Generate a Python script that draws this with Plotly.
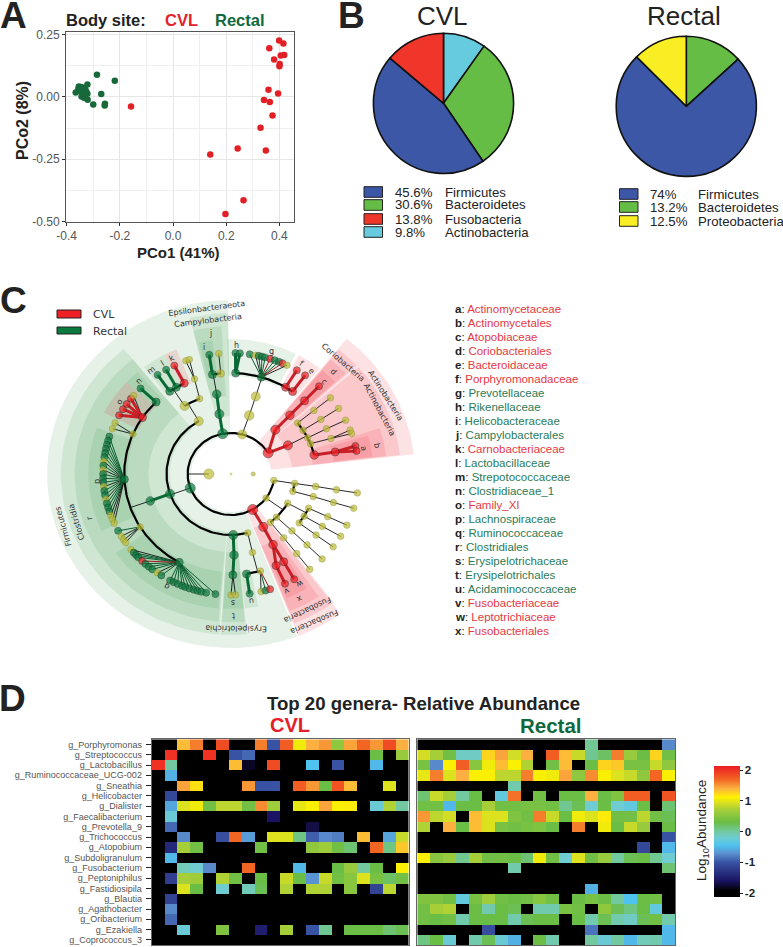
import numpy as np
import plotly.graph_objects as go

W, H = 783, 947
FONT = "Liberation Sans"
TREE = "DejaVu Sans"
OLIVE = "#BDBD35"

# ---------- Panel A data ----------
cvl_pco1 = [.399,.415,.362,.418,.405,.38,.401,.40,.359,.395,.342,.364,.374,.329,.243,.349,.14,.265,.197,-.158]
cvl_pco2 = [.226,.214,.195,.168,.166,.15,.132,.123,.028,.013,-.013,-.021,-.075,-.124,-.207,-.215,-.231,-.415,-.47,-.039]
rectal_pco1 = [-.286,-.219,-.322,-.366,-.356,-.346,-.337,-.35,-.337,-.327,-.322,-.344,-.335,-.321,-.354,-.331,-.27,-.30,-.256,-.257]
rectal_pco2 = [.089,.064,.049,.017,.032,.039,.036,.023,.015,.023,.012,.001,-.004,-.012,.041,.032,.011,-.031,-.028,-.035]

# ---------- Panel B data ----------
cvl_phyla = ["Actinobacteria", "Bacteroidetes", "Firmicutes", "Fusobacteria"]
cvl_share = [9.8, 30.6, 45.6, 13.8]
rectal_phyla = ["Bacteroidetes", "Firmicutes", "Proteobacteria"]
rectal_share = [13.2, 74, 12.5]
phylum_colors = {"Firmicutes": "#3B57A6", "Bacteroidetes": "#66BD46", "Fusobacteria": "#F0352B",
                 "Actinobacteria": "#67CBDF", "Proteobacteria": "#F9ED24"}
cvl_legend = [("45.6%", "Firmicutes"), ("30.6%", "Bacteroidetes"), ("13.8%", "Fusobacteria"), ("9.8%", "Actinobacteria")]
rectal_legend = [("74%", "Firmicutes"), ("13.2%", "Bacteroidetes"), ("12.5%", "Proteobacteria")]

# ---------- Panel C data: cladogram nodes (id, parent, angle deg, level, status, link) ----------
# status: R=CVL, G=Rectal, N=not significant, T=tiny. link: s=stem, a=arc, f=thin fan, x=none
root_nodes = [("root", None, 0, 0, "T0", "x"), ("bac", "root", 180, 1, "N", "x"), ("arch", "root", 0, 1, "T", "x")]
actino_nodes = [
    ("act", "bac", 31, 2, "R", "a"), ("cor", "act", 46.5, 3, "R", "s"), ("actc", "act", 28, 3, "R", "s"),
    ("corb", "cor", 46.5, 4, "R", "s"), ("atop", "corb", 46.5, 5, "R", "s"), ("atog", "atop", 46.5, 6, "R", "s"),
    ("y1", "actc", 39, 4, "N", "a"), ("y2", "actc", 32.7, 4, "N", "a"), ("y3", "actc", 26.5, 4, "N", "a"),
    ("y4", "actc", 22, 4, "N", "a"), ("acto", "actc", 13.6, 4, "R", "a"),
    ("y1f", "y1", 39, 5, "N", "s"), ("y1g", "y1f", 39, 6, "N", "s"),
    ("y2f", "y2", 32.7, 5, "N", "s"), ("y2g", "y2f", 32.8, 6, "N", "s"),
    ("y3f", "y3", 26.6, 5, "N", "s"), ("y3g", "y3f", 26.4, 6, "N", "s"),
    ("y4f", "y4", 20.6, 5, "N", "s"), ("y4g", "y4f", 21.3, 6, "N", "s"), ("y4h", "y4f", 19.5, 6, "N", "s"),
    ("actf", "acto", 12.6, 5, "R", "s"), ("acg1", "actf", 13.4, 6, "R", "s"), ("acg2", "actf", 11, 6, "R", "s"),
]
bacteroidetes_nodes = [
    ("bct", "bac", 75, 2, "N", "a"), ("bcl", "bct", 73.6, 3, "N", "s"), ("bco", "bcl", 73.2, 4, "N", "s"),
    ("rik", "bco", 87.5, 5, "G", "a"), ("prv", "bco", 73.5, 5, "G", "a"),
    ("por", "bco", 59.2, 5, "R", "a"), ("bcd", "bco", 54.8, 5, "R", "a"),
    ("rik1", "rik", 88, 6, "G", "s"), ("rik2", "rik", 86, 6, "G", "s"),
    ("por1", "por", 59, 6, "R", "s"), ("bcd1", "bcd", 54.6, 6, "R", "s"),
]
prevotella_angles = [81.6, 79, 77.5, 76, 74.5, 72.2, 70, 68, 66.3, 64]
prevotella_status = ["G", "N", "G", "G", "G", "R", "G", "G", "R", "N"]
epsilon_nodes = [
    ("eps", "bac", 101, 2, "G", "a"), ("cam", "eps", 100.4, 3, "G", "s"), ("cmb", "cam", 99.6, 4, "G", "s"),
    ("hel", "cmb", 100, 5, "G", "a"), ("ey", "cmb", 95.5, 5, "N", "a"),
    ("hel1", "hel", 99.8, 6, "G", "s"), ("ey1", "ey", 95.5, 6, "N", "s"),
]
firmicutes_nodes = [
    ("fir", "bac", 200, 2, "G", "a"), ("bci", "fir", 120, 3, "N", "a"), ("clo", "fir", 199, 3, "G", "a"),
    ("ery", "fir", 272, 3, "G", "a"), ("neg", "fir", 285, 3, "N", "a"),
    ("lab", "bci", 122.8, 4, "N", "a"), ("bn2", "bci", 111.5, 4, "N", "a"),
    ("car", "lab", 116, 5, "R", "a"), ("lac", "lab", 120.8, 5, "G", "a"), ("str", "lab", 125, 5, "G", "a"),
    ("car1", "car", 116.3, 6, "R", "s"), ("lac1", "lac", 120.5, 6, "G", "s"), ("str1", "str", 125, 6, "G", "s"),
    ("bn3", "bn2", 110, 5, "N", "s"), ("bn4", "bn3", 110.7, 6, "N", "f"), ("bn5", "bn3", 109, 6, "N", "f"),
    ("clr", "clo", 199.4, 4, "G", "s"),
    ("cln", "clr", 134.6, 5, "G", "a"), ("fxi", "clr", 146, 5, "R", "a"), ("cy1", "clr", 156.7, 5, "N", "a"),
    ("lch", "clr", 183, 5, "G", "a"), ("cy2", "clr", 211.6, 5, "N", "a"), ("rum", "clr", 241, 5, "G", "a"),
    ("cln1", "cln", 135, 6, "G", "s"),
    ("cy11", "cy1", 158, 6, "N", "f"), ("cy12", "cy1", 155, 6, "N", "f"),
    ("cy21", "cy2", 208, 6, "G", "f"), ("cy22", "cy2", 211, 6, "N", "f"), ("cy23", "cy2", 213, 6, "N", "f"), ("cy24", "cy2", 214.5, 6, "N", "f"),
    ("ero", "ery", 272, 4, "G", "s"), ("erf", "ero", 271, 5, "G", "s"), ("erg1", "erf", 270, 6, "N", "f"), ("erg2", "erf", 272, 6, "N", "f"),
    ("nego", "neg", 284.5, 4, "N", "s"), ("aci", "nego", 278.4, 5, "G", "a"), ("nef", "nego", 286, 5, "N", "a"),
    ("aci1", "aci", 278.4, 6, "G", "s"), ("nf1", "nef", 283.6, 6, "N", "f"), ("nf2", "nef", 285.7, 6, "G", "f"), ("nf3", "nef", 287.8, 6, "R", "f"),
]
family_xi_angles = [151, 147.6, 144.7, 141.5, 139.6]
family_xi_status = ["R", "R", "R", "R", "N"]
lachno_angles = [162, 164, 166, 168, 170, 172, 174, 176, 178, 180, 182, 184, 186, 188, 190, 192, 194, 196, 198, 200, 202, 204]
lachno_status = ["G", "G", "G", "G", "G", "G", "N", "G", "N", "G", "G", "G", "N", "G", "G", "N", "G", "G", "G", "N", "N", "N"]
rumino_angles = [218.6, 220.5, 222, 223.5, 226, 228, 230, 232, 234.8, 237, 241.6, 243.4, 245.4, 247.5, 249, 251, 253, 254.8, 256.5, 258.8, 263]
rumino_status = ["N", "G", "G", "G", "R", "G", "G", "G", "N", "G", "G", "G", "G", "G", "G", "G", "G", "G", "G", "G", "G"]
fuso_nodes = [
    ("fus", "bac", 300, 2, "R", "a"), ("fuc", "fus", 300, 3, "R", "s"), ("fuo", "fuc", 299.4, 4, "R", "s"),
    ("lep", "fuo", 299.6, 5, "R", "s"), ("fuf", "fuo", 295, 5, "R", "s"),
    ("lep1", "lep", 299.6, 6, "R", "s"), ("fuf1", "fuf", 295, 6, "R", "s"),
]
unlabelled_nodes = [
    ("p1", "bac", 351, 2, "N", "a"), ("p2", "bac", 324, 2, "N", "a"),
    ("a1", "p1", 351.1, 3, "N", "a"), ("a2", "p1", 343.5, 3, "N", "a"),
    ("a1o", "a1", 351.2, 4, "N", "s"), ("a1f", "a1o", 351, 5, "N", "s"), ("a1g", "a1f", 351, 6, "N", "s"),
    ("a2o", "a2", 343.8, 4, "N", "s"), ("a2f", "a2o", 343.6, 5, "N", "s"), ("a2g", "a2f", 343.6, 6, "N", "s"),
    ("b1", "p2", 331.4, 3, "N", "a"), ("b2", "p2", 315, 3, "N", "a"), ("b3", "p2", 307.7, 3, "N", "a"),
    ("c1", "b1", 335, 4, "N", "a"), ("c2", "b1", 328.6, 4, "N", "a"), ("c3", "b1", 322.8, 4, "N", "a"),
    ("c1f", "c1", 335, 5, "N", "s"), ("c1g", "c1f", 335, 6, "N", "s"),
    ("c2f", "c2", 328.8, 5, "N", "s"), ("c2g", "c2f", 329, 6, "N", "s"),
    ("c3f", "c3", 322.8, 5, "N", "s"), ("c3g", "c3f", 323, 6, "N", "s"),
    ("b2o", "b2", 315.4, 4, "N", "s"), ("b2f", "b2o", 315.4, 5, "N", "s"), ("b2g", "b2f", 315.4, 6, "N", "s"),
    ("b3o", "b3", 308, 4, "N", "s"), ("b3f", "b3o", 308, 5, "N", "s"), ("b3g", "b3f", 308, 6, "N", "s"),
]
# shaded clades: start angle, end angle, level, status
wedge_start = [6.5, 291.5, 107, 91,   42.4, 6.8, 291.8, 129, 266.5, 91,
               42.8, 7, 292, 129, 266.7, 93.5,
               43.2, 7.5, 293, 297.5, 131, 137, 160, 216, 266.9, 275.5, 97.5, 112.5, 118, 122.5, 84, 63, 56.5, 51.5]
wedge_end = [51, 306.5, 291, 107,   50.7, 41.5, 307, 266, 275.3, 104,
             50.5, 18, 304, 265.5, 275.1, 104,
             50.2, 16.5, 297.5, 302, 137, 153, 205, 265, 275, 281, 103, 118, 122.5, 127.5, 91.5, 84, 61.6, 56.5]
wedge_level = [2, 2, 2, 2,   3, 3, 3, 3, 3, 3,
               4, 4, 4, 4, 4, 4,
               5, 5, 5, 5, 5, 5, 5, 5, 5, 5, 5, 5, 5, 5, 5, 5, 5, 5]
wedge_status = ["R", "R", "G", "G",   "R", "R", "R", "G", "G", "G",
                "R", "R", "R", "G", "G", "G",
                "R", "R", "R", "R", "G", "R", "G", "G", "G", "G", "G", "R", "G", "G", "G", "G", "R", "R"]
clade_key_letters = list("abcdefghijklmnopqrstuvwx")
clade_key_names = ["Actinomycetaceae", "Actinomycetales", "Atopobiaceae", "Coriobacteriales", "Bacteroidaceae",
                   "Porphyromonadaceae", "Prevotellaceae", "Rikenellaceae", "Helicobacteraceae", "Campylobacterales",
                   "Carnobacteriaceae", "Lactobacillaceae", "Strepotococcaceae", "Clostridiaceae_1", "Family_XI",
                   "Lachnospiraceae", "Ruminococcaceae", "Clostridiales", "Erysipelotrichaceae", "Erysipelotrichales",
                   "Acidaminococcaceae", "Fusobacteriaceae", "Leptotrichiaceae", "Fusobacteriales"]
clade_key_groups = list("RRRRRRGGGGRGGGRGGGGGGRRR")

# ---------- Panel D data ----------
genera = ["g_Porphyromonas", "g_Streptococcus", "g_Lactobacillus", "g_Ruminococcaceae_UCG-002", "g_Sneathia",
          "g_Helicobacter", "g_Dialister", "g_Faecalibacterium", "g_Prevotella_9", "g_Trichococcus", "g_Atopobium",
          "g_Subdoligranulum", "g_Fusobacterium", "g_Peptoniphilus", "g_Fastidiosipila", "g_Blautia",
          "g_Agathobacter", "g_Oribacterium", "g_Ezakiella", "g_Coprococcus_3"]
K = -2.13
cvl_abundance = [
    [K,K,1.35,1.6,K,1.85,K,K,1.6,-1,1.75,1.05,1.4,1.5,.55,1.45,1.7,1.5,1.85,1.4],
    [K,2,K,K,2,K,-1,-.9,K,K,K,K,K,K,K,K,K,.3,K,.6],
    [2,0,K,K,K,K,1.35,-1.8,K,1.85,K,K,-.45,K,-1,K,K,-.5,K,K],
    [K,-.55,K,K,K,K,K,K,K,K,K,K,K,K,K,K,K,K,K,K],
    [K,K,1.45,1.2,K,K,K,1.5,-1,-1,K,1.75,1.5,.3,1.8,1.35,K,K,.95,K],
    [K,-1.1,K,K,K,K,K,K,K,K,K,K,K,K,K,K,K,K,K,K],
    [K,-.6,.95,1.05,.35,.8,.8,.35,1.55,.65,K,1.0,1.1,1.45,1.1,1.15,K,-.25,.75,0],
    [K,-.25,K,K,K,K,K,K,K,-1.6,K,K,K,K,K,K,K,K,K,K],
    [K,-.9,K,K,K,K,K,K,K,K,K,K,-1.7,K,K,K,K,K,K,K],
    [K,K,-.75,K,K,-1.05,1.7,-.65,K,.95,.95,.1,-.95,-.75,-.8,K,1.35,K,-.6,.85],
    [K,-1.4,.7,.35,K,K,K,K,.35,K,K,K,.55,.65,.35,.15,K,1.7,.1,1.3],
    [K,-.5,K,K,K,K,K,K,K,K,K,K,K,K,K,K,K,K,K,K],
    [K,K,-.1,-.2,-.75,K,K,1.7,K,K,K,-.5,K,K,.3,.6,0,.3,K,1.1],
    [K,-1.2,.7,.65,K,.75,.35,K,.3,K,.85,.3,-.7,.85,.35,.5,.95,.4,.2,.35],
    [K,K,.95,.3,K,-.2,K,-.1,.25,K,.75,K,.75,.75,K,.5,K,-1.15,.8,K],
    [K,-1.15,K,K,K,K,K,K,K,K,K,K,K,K,K,K,K,K,K,K],
    [K,-.75,K,K,K,K,K,K,K,K,K,K,K,K,K,K,K,K,K,K],
    [K,-.9,K,K,K,K,K,K,K,K,K,K,K,K,K,K,K,K,K,K],
    [K,K,-.25,K,K,.45,K,K,-1.5,K,.7,K,-1,.05,K,.3,.3,.3,.15,.25],
    [K,K,K,K,K,K,K,K,K,K,K,K,K,K,K,K,K,K,K,K],
]
rectal_abundance = [
    [K,K,K,K,K,K,K,K,K,K,K,K,K,.05,K,K,K,K,K,-.75],
    [.9,.7,.35,-.15,-.15,1.25,1.45,.9,1.4,K,1.75,1.35,.85,.05,.2,1.6,.6,.3,1.25,.35],
    [.4,-.75,1.1,1.75,.5,1.05,1.35,1.1,.75,K,.35,1.35,K,.3,1.25,1.3,.4,.4,.85,.55],
    [1.0,1.6,.95,1.4,1.1,1.1,.8,.8,1.6,1.1,1.05,1.45,.55,1.55,1.1,.95,.85,.55,1.7,1.1],
    [K,K,K,K,K,K,K,-.05,K,K,K,K,K,K,K,K,K,K,K,K],
    [.15,.85,.7,0,.3,K,-.3,1.65,K,.35,K,.3,.3,1.4,.3,.45,1.75,1.75,K,1.8],
    [.35,.35,-.5,.3,.3,.7,.35,.35,.4,.4,.35,.05,.25,-.2,.3,-.2,-.3,.3,K,.15],
    [1.5,.8,.9,K,1.35,.95,.95,.45,.35,1.6,.85,.3,1.05,.95,1.15,.35,.35,.8,.35,.25],
    [.75,K,1.4,.3,1.35,.95,.4,.35,.4,.45,.3,K,1.6,K,1.05,.3,.85,.6,K,.3],
    [K,K,K,K,K,K,K,K,K,K,K,K,K,K,K,K,K,K,K,-1],
    [K,K,K,K,K,K,K,K,K,K,K,K,K,K,K,K,K,-1.1,K,-.5],
    [1.1,.5,.6,.05,.7,.35,.35,.3,.15,1.05,.35,-.2,.95,.35,.6,0,.25,.3,.05,-.2],
    [K,K,K,K,K,K,K,-.05,K,K,K,K,K,K,K,K,K,K,K,.15],
    [K,K,K,K,K,K,K,K,K,K,K,K,K,K,K,K,K,K,K,K],
    [K,K,K,K,K,K,K,K,K,K,K,K,K,-.55,K,K,K,K,K,K],
    [.45,.45,.35,-.3,.4,.65,.35,.3,.35,.5,.35,K,.3,.4,.3,0,-.45,.3,.35,K],
    [.35,.7,.75,K,.3,-.05,.3,.25,K,-.05,-.05,.4,.35,K,.55,.25,.1,.3,-.3,K],
    [.35,.3,.35,-.05,.3,.3,.3,-.05,.25,.3,.3,K,.3,-.05,.25,-.05,-.15,.25,.35,-.05],
    [K,K,K,K,K,-1.05,K,K,K,K,K,K,K,-.85,K,K,K,K,K,-.5],
    [.1,.3,-.25,K,-.05,.25,-.25,-.55,K,.3,-.05,K,K,0,-.25,0,-.5,-.1,-.05,-.5],
]
scale_values = [-2.13, -1.92, -1.6, -1.0, -.72, -.45, -.2, 0, .3, .7, .92, 1.12, 1.4, 1.7, 2.13]
scale_colors = ["#000000", "#000000", "#1B1464", "#3953A4", "#5B8FD0", "#4FC3F0", "#6FCCD0", "#72C9A0",
                "#6ABD45", "#A6CE39", "#D7DF23", "#FFF200", "#FBB040", "#F26522", "#ED1C24"]
assert all(len(r) == 20 for r in cvl_abundance + rectal_abundance) and len(cvl_abundance) == len(rectal_abundance) == 20


# ---------- helpers ----------
def px_x(x): return x / W
def px_y(y): return 1 - y / H
def dom_x(a, b): return [px_x(a), px_x(b)]
def dom_y(top, bottom): return [px_y(bottom), px_y(top)]

annotations, shapes = [], []
def note(text, x, y, size, color="#222222", bold=False, angle=0, family=FONT, anchor="center"):
    annotations.append(dict(text=f"<b>{text}</b>" if bold else text, x=px_x(x), y=px_y(y), xref="paper", yref="paper",
                            xanchor=anchor, yanchor="middle", showarrow=False, textangle=angle,
                            font=dict(size=size, color=color, family=family)))
def swatch(x0, y0, x1, y1, color, lw=1):
    shapes.append(dict(type="rect", xref="paper", yref="paper", x0=px_x(x0), x1=px_x(x1), y0=px_y(y0), y1=px_y(y1),
                       fillcolor=color, line=dict(color="#222222", width=lw)))

fig = go.Figure()

# ---------- Panel A ----------
fig.add_trace(go.Scatter(x=cvl_pco1, y=cvl_pco2, mode="markers", marker=dict(size=6.5, color="#E31F26"), xaxis="x", yaxis="y"))
fig.add_trace(go.Scatter(x=rectal_pco1, y=rectal_pco2, mode="markers", marker=dict(size=6.5, color="#17693A"), xaxis="x", yaxis="y"))

# ---------- Panel B ----------
pie_line = dict(color="#111111", width=1.6)
fig.add_trace(go.Pie(labels=cvl_phyla, values=cvl_share, sort=False, direction="clockwise", rotation=0, textinfo="none",
                     marker=dict(colors=[phylum_colors[p] for p in cvl_phyla], line=pie_line),
                     domain=dict(x=dom_x(373.4, 513.6), y=dom_y(33.2, 173.4))))
fig.add_trace(go.Pie(labels=rectal_phyla, values=rectal_share, sort=False, direction="clockwise", rotation=0, textinfo="none",
                     marker=dict(colors=[phylum_colors[p] for p in rectal_phyla], line=pie_line),
                     domain=dict(x=dom_x(616.2, 756.4), y=dom_y(36.2, 176.4))))

# ---------- Panel C ----------
LEVEL_R = {0: 0, 1: 21, 2: 41, 3: 61, 4: 81, 5: 101, 6: 121}
WEDGE_OUT = {2: 174, 3: 161, 4: 148, 5: 135}
WEDGE_FILL = {"R": "rgba(238,32,44,0.13)", "G": "rgba(35,140,50,0.115)"}
def polar(theta, r):
    t = np.radians(np.asarray(theta, dtype=float))
    return r * np.cos(t), r * np.sin(t)

for a, b, lev, st in zip(wedge_start, wedge_end, wedge_level, wedge_status):
    ts = np.linspace(a, b, 40)
    x1, y1 = polar(ts, WEDGE_OUT[lev])
    x0, y0 = polar(ts[::-1], LEVEL_R[lev] - 3)
    fig.add_trace(go.Scatter(x=np.r_[x1, x0, x1[0]], y=np.r_[y1, y0, y1[0]], mode="lines", fill="toself",
                             fillcolor=WEDGE_FILL[st], line=dict(width=0), xaxis="x2", yaxis="y2"))

fan_rows = []
for parent, ang, sts, link in [("prv", prevotella_angles, prevotella_status, "f"), ("fxi", family_xi_angles, family_xi_status, "s"),
                               ("lch", lachno_angles, lachno_status, "f"), ("rum", rumino_angles, rumino_status, "f")]:
    fan_rows += [(f"{parent}{i}", parent, t, 6, s, link) for i, (t, s) in enumerate(zip(ang, sts))]
nodes = root_nodes + actino_nodes + bacteroidetes_nodes + epsilon_nodes + firmicutes_nodes + fan_rows + fuso_nodes + unlabelled_nodes
by_id = {n[0]: n for n in nodes}
NODE_COLOR = {"R": "#EE2024", "G": "#0B7A3E", "N": OLIVE, "T": OLIVE, "T0": OLIVE}
NODE_EDGE = {"R": "#222222", "G": "#123A22", "N": "#8F8F30", "T": "#8F8F30", "T0": OLIVE}
LEVEL_SIZE = {0: 2, 1: 10, 2: 10, 3: 9, 4: 8.5, 5: 8, 6: 7}
LARGE_OLIVE = {"bac": 10, "bct": 9, "bcl": 9.5, "bco": 9, "bci": 9, "lab": 9, "ey": 7.5}
def node_size(n):
    if n[4] == "T":
        return 4
    if n[4] == "N":
        return LARGE_OLIVE.get(n[0], 6.5)
    return LEVEL_SIZE[n[3]]
node_xy = {n[0]: polar(n[2], LEVEL_R[n[3]]) for n in nodes}

def add_lines(segs, color, width):
    xs, ys = [], []
    for seg in segs:
        xs += list(seg[0]) + [None]
        ys += list(seg[1]) + [None]
    fig.add_trace(go.Scatter(x=xs, y=ys, mode="lines", line=dict(color=color, width=width), xaxis="x2", yaxis="y2"))

thin = {"k": [], "G": [], "R": []}
thick = {"G": [], "R": []}
arcs, stubs = [], []
for n in nodes:
    nid, par, th, lev, st, link = n
    if link in ("s", "f"):
        seg = ([node_xy[par][0], node_xy[nid][0]], [node_xy[par][1], node_xy[nid][1]])
        if link == "s" and st in thick:
            thick[st].append(seg)
        elif st in thin:
            thin[st].append(seg)
        else:
            thin["k"].append(seg)
for par in {n[1] for n in nodes if n[5] == "a"}:
    kids = [n for n in nodes if n[1] == par and n[5] == "a"]
    r = LEVEL_R[kids[0][3]]
    pt = by_id[par][2]
    ths = [k[2] for k in kids] + [pt]
    xa, ya = polar(np.linspace(min(ths), max(ths), 90), r)
    arcs.append((xa, ya))
    xs, ys = polar(pt, r)
    stubs.append(([node_xy[par][0], xs], [node_xy[par][1], ys]))
add_lines(arcs, "#000000", 2.2)
add_lines(stubs + thin["k"], "#111111", 0.9)
add_lines(thin["G"], "#0A5C30", 1)
add_lines(thin["R"], "#A8151C", 1)
add_lines(thick["G"], "#0A6A36", 3)
add_lines(thick["R"], "#C81E26", 3)
fig.add_trace(go.Scatter(x=[node_xy[n[0]][0] for n in nodes], y=[node_xy[n[0]][1] for n in nodes], mode="markers",
                         marker=dict(size=[node_size(n) for n in nodes], color=[NODE_COLOR[n[4]] for n in nodes],
                                     line=dict(color=[NODE_EDGE[n[4]] for n in nodes], width=0.7)), xaxis="x2", yaxis="y2"))

# ---------- Panel D ----------
col_ids = list(range(20))
fig.add_trace(go.Heatmap(z=cvl_abundance, x=col_ids, y=genera, coloraxis="coloraxis", xaxis="x3", yaxis="y3"))
fig.add_trace(go.Heatmap(z=rectal_abundance, x=col_ids, y=genera, coloraxis="coloraxis", xaxis="x4", yaxis="y4"))
zmin, zmax = scale_values[0], scale_values[-1]
colorscale = [[(v - zmin) / (zmax - zmin), c] for v, c in zip(scale_values, scale_colors)]

# ---------- Text ----------
for t, x, y in [("A", 13, 16), ("B", 351, 16), ("C", 13, 300), ("D", 12, 698)]:
    note(t, x, y, 37, "#222222", bold=True)
note("Body site:", 64, 20, 16.5, "#222222", True, anchor="left")
note("CVL", 163, 20, 16.5, "#E4202A", True, anchor="left")
note("Rectal", 213, 20, 16.5, "#10693C", True, anchor="left")
note("PCo1 (41%)", 178, 252, 15, "#222222", True)
note("PCo2 (8%)", 22, 121, 16, "#222222", True, angle=-90)
note("CVL", 442, 16, 26, "#222222")
note("Rectal", 684, 16, 26, "#222222")

for i, (pct, name) in enumerate(cvl_legend):
    y = [192, 205, 219, 232][i]
    swatch(364, y - 5.3, 382.5, y + 5.3, phylum_colors[name])
    note(pct, 393, y, 13.2, anchor="left")
    note(name, 442.5, y, 13.2, anchor="left")
for i, (pct, name) in enumerate(rectal_legend):
    y = [194, 207, 221][i]
    swatch(619.5, y - 5.3, 638, y + 5.3, phylum_colors[name])
    note(pct, 648, y, 13.2, anchor="left")
    note(name, 695.5, y, 13.2, anchor="left")

swatch(57, 310, 81, 318, "#EE2024")
swatch(57, 327, 81, 334, "#0B7A3E")
note("CVL", 90.7, 314, 11, "#333333", family=TREE, anchor="left")
note("Rectal", 90.7, 331, 11, "#333333", family=TREE, anchor="left")
for text, x, y, ang in [("Firmicutes", 63, 527, -106), ("Clostridia", 76, 522, -107),
                        ("Erysipelotrichia", 236, 629, 181), ("Fusobacteria", 308, 610, 155), ("Fusobacteria", 315, 622, 157),
                        ("Actinobacteria", 385.7, 395, 57.6), ("Actinobacteria", 379, 410, 62), ("Coriobacteria", 343, 362.7, 41),
                        ("Epsilonbacteraeota", 206, 308, -7.5), ("Campylobacteria", 208, 320, -7)]:
    note(text, x, y, 8, "#333333", angle=ang, family=TREE)
for text, x, y, ang in [("a", 363, 448, 80), ("b", 376.7, 445.7, 80), ("c", 324, 381.7, 45), ("d", 333.3, 371.7, 45), ("e", 311, 370.7, 55),
                        ("f", 301, 363, 30), ("g", 271, 351, 0), ("h", 236, 345, 0), ("i", 204, 347, 0), ("j", 210, 333, 0),
                        ("k", 171, 358, -25), ("l", 162, 363, -30), ("m", 150.7, 370, -35), ("n", 138, 381, -45), ("o", 119, 402, -55),
                        ("p", 97, 482, -90), ("q", 167, 587, 210), ("r", 89, 518, -100), ("s", 233, 603, 180), ("t", 233, 616, 180),
                        ("u", 252, 600.7, 175), ("v", 287, 590.7, 155), ("w", 300, 584, 155), ("x", 300, 599, 155)]:
    note(text, x, y, 8, "#333333", angle=ang, family=TREE)
for i, (let, name, grp) in enumerate(zip(clade_key_letters, clade_key_names, clade_key_groups)):
    col = "#E5383F" if grp == "R" else "#2B7A58"
    note(f'<b>{let}</b>: <span style="color:{col}">{name}</span>', 453, 309 + 14 * i, 11.5, "#222222", anchor="left")

note("Top 20 genera- Relative Abundance", 423, 703, 18.6, "#222222", True)
note("CVL", 290, 725, 20, "#E4202A", True)
note("Rectal", 551, 725, 20.5, "#10693C", True)
note("Log<sub>10</sub>Abundance", 702, 831, 13.5, "#222222", angle=-90)

# ---------- Layout ----------
grid = "#E6E6E6"
axis_a = dict(showline=True, linecolor="#555555", linewidth=1, mirror=True, ticks="outside", ticklen=3, tickcolor="#333333",
              gridcolor=grid, gridwidth=1, zeroline=False, tickfont=dict(size=12, color="#555555", family=FONT))
hidden = dict(visible=False, fixedrange=True)
heat_x = dict(showticklabels=False, ticks="", range=[-.5, 19.5], showgrid=False, zeroline=False, showline=True,
              linecolor="#666666", linewidth=1, mirror=True)
heat_y = dict(type="category", autorange="reversed", showgrid=False, zeroline=False, showline=True, linecolor="#666666",
              linewidth=1, mirror=True)

fig.update_layout(
    width=W, height=H, autosize=False, margin=dict(l=0, r=0, t=0, b=0, autoexpand=False), paper_bgcolor="white", plot_bgcolor="white",
    showlegend=False, hovermode=False, font=dict(family=FONT),
    xaxis=dict(axis_a, domain=dom_x(66, 293.5), range=[-.4025, .453], tickvals=[-.4, -.2, 0, .2, .4],
               ticktext=["-0.4", "-0.2", "0.0", "0.2", "0.4"], anchor="y",
               minor=dict(showgrid=True, gridcolor="#EFEFEF", tickvals=[-.3, -.1, .1, .3], ticks="")),
    yaxis=dict(axis_a, domain=dom_y(32, 222), range=[-.502, .26], tickvals=[-.5, -.25, 0, .25],
               ticktext=["-0.50", "-0.25", "0.00", "0.25"], anchor="x",
               minor=dict(showgrid=True, gridcolor="#EFEFEF", tickvals=[-.375, -.125, .125], ticks="")),
    xaxis2=dict(hidden, domain=dom_x(40, 425), range=[(40 - 231) / 1.057, (425 - 231) / 1.057], anchor="y2"),
    yaxis2=dict(hidden, domain=dom_y(290, 660), range=[474 - 660, 474 - 290], anchor="x2"),
    xaxis3=dict(heat_x, domain=dom_x(151.7, 408.7), anchor="y3"),
    yaxis3=dict(heat_y, domain=dom_y(739.3, 945), anchor="x3", ticks="outside", ticklen=5, tickcolor="#222222",
                ticklabelstandoff=2, tickfont=dict(size=9, color="#555555", family=FONT), dtick=1),
    xaxis4=dict(heat_x, domain=dom_x(417.3, 675), anchor="y4"),
    yaxis4=dict(heat_y, domain=dom_y(739.3, 945), anchor="x4", showticklabels=False, ticks=""),
    coloraxis=dict(colorscale=colorscale, cmin=zmin, cmax=zmax,
                   colorbar=dict(x=714.3 / W, xanchor="left", y=px_y(831.7), yanchor="middle", thickness=25.7, thicknessmode="pixels",
                                 len=131.3, lenmode="pixels", xpad=0, ypad=0, outlinewidth=0, tickvals=[-2, -1, 0, 1, 2],
                                 ticktext=["-2", "-1", "0", "1", "2"], ticks="outside", ticklen=3, tickcolor="#222222",
                                 tickfont=dict(size=11.5, color="#222222", family=FONT, weight="bold"))),
    annotations=annotations, shapes=shapes,
)
fig.write_html("out.html", config=dict(displayModeBar=False),
               post_script="document.body.style.margin='0';document.body.style.overflow='hidden';")
